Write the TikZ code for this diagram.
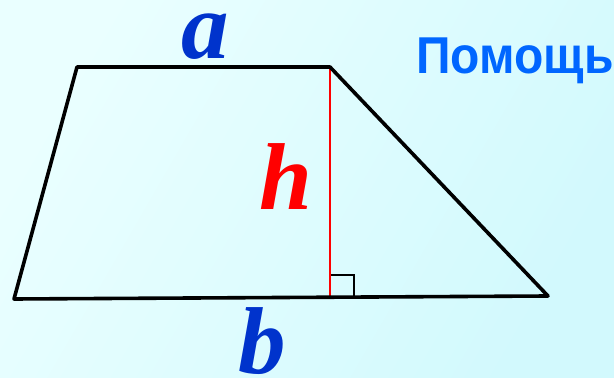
\documentclass[tikz,border=0pt]{standalone}
\usepackage{fontspec}
\setmainfont{Liberation Serif}
\newfontfamily\helpfont{Liberation Sans}
\definecolor{bgA}{HTML}{EAFFFF}
\definecolor{bgB}{HTML}{D2F9FD}
\definecolor{letterblue}{HTML}{0033CC}
\definecolor{helpblue}{HTML}{0066FF}
\definecolor{hred}{HTML}{FF0000}
\begin{document}
\begin{tikzpicture}[x=1pt,y=1pt,
  side/.style={line width=3.6pt, line join=round, line cap=round},
  letter/.style={inner sep=0pt, anchor=base, font=\fontsize{95}{95}\selectfont\bfseries\itshape},
  height/.style={hred, line width=1.4pt},
  rightangle/.style={line width=1.5pt}]
\shade[left color=bgA, right color=bgB, shading angle=60] (0,0) rectangle (614,378);
\useasboundingbox (0,0) rectangle (614,378);
\coordinate (TL) at (77,311);
\coordinate (TR) at (330,311);
\coordinate (BR) at (548,82);
\coordinate (BL) at (14,79);
\coordinate (F) at (330,80.5);
\coordinate (Q1) at (330,103);
\coordinate (Q2) at (354,103);
\coordinate (Q3) at (354,80.5);
\draw[rightangle] (Q1) -- (Q2) -- (Q3);
\draw[height] (TR) -- (F);
\draw[side] (TL) -- (TR) -- (BR) -- (BL) -- cycle;
\node[letter, text=letterblue, text height=45pt, text depth=0pt] (a) at (205,319) {a};
\node[letter, text=hred] (h) at (286,168) {h};
\node[letter, text=letterblue, text depth=0pt] (b) at (262,5) {b};
\node[inner sep=0pt, anchor=base, yscale=1.08, text=helpblue, font=\helpfont\fontsize{48}{48}\selectfont\bfseries] (help) at (515,304) {Помощь};
\end{tikzpicture}
\end{document}
